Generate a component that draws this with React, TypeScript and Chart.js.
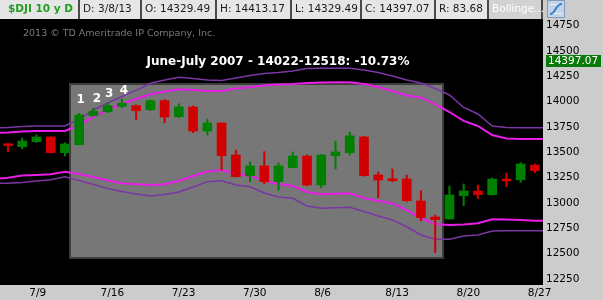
import { useEffect, useRef } from 'react';
import { Chart, registerables } from 'chart.js';
Chart.register(...registerables);

const dates = ['7/5','7/6','7/9','7/10','7/11','7/12','7/13','7/16','7/17','7/18','7/19','7/20','7/23','7/24','7/25','7/26','7/27','7/30','7/31','8/1','8/2','8/3','8/6','8/7','8/8','8/9','8/10','8/13','8/14','8/15','8/16','8/17','8/20','8/21','8/22','8/23','8/24','8/27'];
const opens = [13576,13549,13598,13645,13490,13569,13855,13894,13948,13954,13914,14003,13845,13941,13704,13783,13467,13263,13359,13204,13342,13457,13171,13460,13490,13645,13270,13230,13230,13013,12855,12836,13065,13112,13075,13230,13223,13368];
const highs = [13576,13635,13665,13650,13588,13878,13928,13983,14020,13961,14010,14013,13973,13951,13822,13783,13516,13398,13500,13388,13497,13467,13472,13605,13694,13650,13299,13329,13270,13115,12875,13161,13181,13171,13240,13289,13391,13378];
const lows = [13496,13526,13592,13485,13457,13566,13852,13885,13934,13812,13906,13786,13837,13687,13664,13319,13250,13204,13181,13122,13340,13161,13144,13329,13467,13258,13046,13204,13006,12819,12503,12833,12967,13036,13070,13154,13198,13292];
const closes = [13559,13605,13645,13490,13576,13862,13898,13954,13977,13904,14003,13842,13941,13704,13783,13460,13253,13359,13204,13359,13457,13171,13467,13497,13655,13263,13220,13213,13016,12848,12829,13072,13112,13075,13230,13210,13378,13312];

// Bollinger band values, one day before the first candle through one day after the last
const bandDates = ['7/3', ...dates, '8/28'];
const upperOuter = [13734,13738,13748,13753,13753,13753,13822,13911,13980,14044,14104,14175,14207,14234,14222,14207,14202,14227,14252,14271,14281,14296,14321,14323,14323,14323,14306,14281,14247,14207,14178,14123,14059,13936,13872,13753,13738,13736,13736,13736];
const upperInner = [13684,13689,13699,13704,13704,13704,13763,13842,13916,13970,14020,14066,14094,14115,14109,14099,14099,14123,14135,14156,14163,14168,14178,14183,14185,14185,14168,14138,14099,14054,14035,13970,13891,13803,13753,13664,13630,13625,13625,13625];
const lowerInner = [13230,13242,13265,13270,13277,13302,13280,13250,13215,13188,13178,13171,13178,13210,13260,13304,13319,13280,13263,13215,13181,13161,13102,13079,13084,13089,13043,13013,12991,12924,12842,12786,12776,12781,12793,12833,12831,12826,12819,12816];
const lowerOuter = [13186,13188,13196,13210,13223,13253,13215,13176,13136,13107,13082,13062,13077,13102,13151,13204,13213,13171,13154,13092,13053,13040,12964,12941,12946,12951,12909,12865,12826,12759,12678,12635,12635,12668,12678,12717,12720,12720,12720,12717];

const weekLabels = ['7/9','7/16','7/23','7/30','8/6','8/13','8/20','8/27'];
const yTicks = [12250,12500,12750,13000,13250,13500,13750,14000,14250,14500,14750];
const lastPrice = 14397.07;

const headerTexts = ['$DJI 10 y D','D: 3/8/13','O: 14329.49','H: 14413.17','L: 14329.49','C: 14397.07','R: 83.68','Bollinge...'];
const headerEdges = [0,80,142,217,292,362,436,489,543];

const titleText = 'June-July 2007 - 14022-12518: -10.73%';
const copyrightText = '2013 \u00A9 TD Ameritrade IP Company, Inc.';
const waveLabels = ['1','2','3','4'];
const waveX = [5.1, 6.25, 7.1, 8.15];
const waveLevels = [14015, 14025, 14074, 14104];
const boxX = [4.35, 30.55];
const boxY = [12446, 14168];

const FONT = '"DejaVu Sans", sans-serif';
const GREEN = '#008000';
const RED = '#d00000';

const deco = {
  id: 'deco',
  beforeDraw(chart: any) {
    const { ctx, chartArea: a } = chart;
    ctx.save();
    ctx.fillStyle = '#cccccc';
    ctx.fillRect(0, 0, chart.width, chart.height);
    ctx.fillStyle = '#000000';
    ctx.fillRect(a.left, a.top, a.right - a.left, a.bottom - a.top);
    ctx.restore();
  },
  beforeDatasetsDraw(chart: any) {
    const { ctx, scales } = chart;
    const xs = scales.x, ys = scales.y;
    ctx.save();
    const x0 = Math.round(xs.getPixelForValue(boxX[0]));
    const x1 = Math.round(xs.getPixelForValue(boxX[1]));
    const y0 = Math.round(ys.getPixelForValue(boxY[1]));
    const y1 = Math.round(ys.getPixelForValue(boxY[0]));
    ctx.fillStyle = '#777777';
    ctx.fillRect(x0, y0, x1 - x0, y1 - y0);
    ctx.strokeStyle = '#3c3c3c';
    ctx.lineWidth = 2;
    ctx.strokeRect(x0, y0, x1 - x0, y1 - y0);
    ctx.fillStyle = '#7a7a7a';
    ctx.font = `9.5px ${FONT}`;
    ctx.textBaseline = 'alphabetic';
    ctx.textAlign = 'left';
    ctx.fillText(copyrightText, 23, 36);
    ctx.fillStyle = '#ffffff';
    ctx.font = `bold 12px ${FONT}`;
    ctx.textAlign = 'center';
    ctx.fillText(titleText, 278, 65);
    ctx.restore();
  },
  afterDatasetsDraw(chart: any) {
    const { ctx, scales } = chart;
    ctx.save();
    ctx.fillStyle = '#ffffff';
    ctx.font = `bold 12px ${FONT}`;
    ctx.textAlign = 'center';
    ctx.textBaseline = 'middle';
    waveLabels.forEach((t, i) => {
      ctx.fillText(t, scales.x.getPixelForValue(waveX[i]), scales.y.getPixelForValue(waveLevels[i]));
    });
    ctx.restore();
  },
  afterDraw(chart: any) {
    const { ctx, chartArea: a, scales } = chart;
    ctx.save();
    // y-axis labels
    ctx.fillStyle = '#000000';
    ctx.font = `10.5px ${FONT}`;
    ctx.textAlign = 'left';
    ctx.textBaseline = 'middle';
    yTicks.forEach((v) => {
      ctx.fillText(String(v), a.right + 3, scales.y.getPixelForValue(v) + 0.5);
    });
    // header
    ctx.fillStyle = '#4a4a4a';
    ctx.fillRect(0, 0, a.right, a.top);
    ctx.font = `10.5px ${FONT}`;
    ctx.textBaseline = 'alphabetic';
    ctx.textAlign = 'left';
    headerTexts.forEach((t, i) => {
      const l = headerEdges[i];
      const r = headerEdges[i + 1] - 2;
      ctx.fillStyle = i === headerTexts.length - 1 ? '#d2d2d2' : '#e6e6e6';
      ctx.fillRect(l, 0, r - l, a.top);
      if (i === 0) {
        ctx.font = `bold 10.5px ${FONT}`;
        ctx.fillStyle = '#1f9f1f';
        ctx.fillText(t, 8, 12);
        ctx.font = `10.5px ${FONT}`;
      } else {
        ctx.fillStyle = i === headerTexts.length - 1 ? '#ffffff' : '#1a1a1a';
        ctx.fillText(t, l + 3, 12);
      }
    });
    // icon
    ctx.fillStyle = '#c4d4e6';
    ctx.fillRect(548, 1, 16, 16);
    ctx.strokeStyle = '#7f9db9';
    ctx.lineWidth = 1;
    ctx.strokeRect(547.5, 0.5, 17, 17);
    ctx.strokeStyle = '#f0f0f0';
    ctx.beginPath();
    ctx.moveTo(550, 4.5); ctx.lineTo(562, 4.5);
    ctx.moveTo(550, 13.5); ctx.lineTo(562, 13.5);
    ctx.stroke();
    ctx.strokeStyle = '#2f86d6';
    ctx.lineWidth = 2;
    ctx.beginPath();
    ctx.moveTo(550, 14);
    ctx.bezierCurveTo(556, 14, 555, 4, 562, 4);
    ctx.stroke();
    // price label
    const py = scales.y.getPixelForValue(lastPrice);
    ctx.fillStyle = '#0a7a0a';
    ctx.fillRect(a.right + 3, Math.round(py - 6), 55, 12);
    ctx.fillStyle = '#ffffff';
    ctx.font = `10.5px ${FONT}`;
    ctx.textBaseline = 'middle';
    ctx.fillText(lastPrice.toFixed(2), a.right + 5, py + 0.5);
    ctx.restore();
  },
};

export default function App() {
  const ref = useRef<HTMLCanvasElement>(null);
  useEffect(() => {
    if (!ref.current) return;
    const colors = closes.map((c, i) => (c >= opens[i] ? GREEN : RED));
    const band = (vals: number[], color: string, w: number) => ({
      type: 'line' as const,
      data: bandDates.map((_, j) => ({ x: j - 1, y: vals[j] })),
      borderColor: color,
      borderWidth: w,
      pointRadius: 0,
      tension: 0,
      order: 3,
    });
    const chart = new Chart(ref.current, {
      type: 'bar',
      data: {
        datasets: [
          {
            type: 'bar',
            data: dates.map((_, i) => ({ x: i, y: [opens[i], closes[i]] })) as any,
            backgroundColor: colors,
            borderWidth: 0,
            barThickness: 9,
            grouped: false,
            minBarLength: 2,
            order: 1,
          },
          {
            type: 'bar',
            data: dates.map((_, i) => ({ x: i, y: [lows[i], highs[i]] })) as any,
            backgroundColor: colors,
            borderWidth: 0,
            barThickness: 1.4,
            grouped: false,
            order: 2,
          },
          band(upperOuter, '#7a36a4', 1.5),
          band(upperInner, '#e81ee8', 2),
          band(lowerInner, '#e81ee8', 2),
          band(lowerOuter, '#7a36a4', 1.5),
        ] as any,
      },
      options: {
        responsive: false,
        animation: false,
        events: [],
        layout: { padding: { top: 19, left: 0, right: 0, bottom: 0 } },
        plugins: { legend: { display: false }, tooltip: { enabled: false } },
        scales: {
          x: {
            type: 'linear',
            min: -0.56,
            max: 37.57,
            offset: false,
            grid: { display: false, drawTicks: false },
            border: { display: false },
            afterBuildTicks: (s: any) => {
              s.ticks = weekLabels.map((l) => ({ value: dates.indexOf(l) - 0.5 }));
            },
            afterFit: (s: any) => { s.height = 15; },
            ticks: {
              autoSkip: false,
              maxRotation: 0,
              minRotation: 0,
              align: 'start',
              padding: 2,
              color: '#000000',
              font: { family: 'DejaVu Sans', size: 10.5 },
              callback: (_v: any, i: number) => weekLabels[i],
            },
          },
          y: {
            type: 'linear',
            position: 'right',
            min: 12184,
            max: 14809,
            beginAtZero: false,
            grid: { display: false, drawTicks: false },
            border: { display: false },
            afterBuildTicks: (s: any) => {
              s.ticks = yTicks.map((v) => ({ value: v }));
            },
            afterFit: (s: any) => { s.width = 60; },
            ticks: { display: false },
          },
        },
      } as any,
      plugins: [deco],
    });
    return () => chart.destroy();
  }, []);
  return (
    <div style={{ position: 'absolute', left: 0, top: 0, width: 603, height: 300 }}>
      <canvas ref={ref} width={603} height={300} style={{ display: 'block' }} />
    </div>
  );
}
